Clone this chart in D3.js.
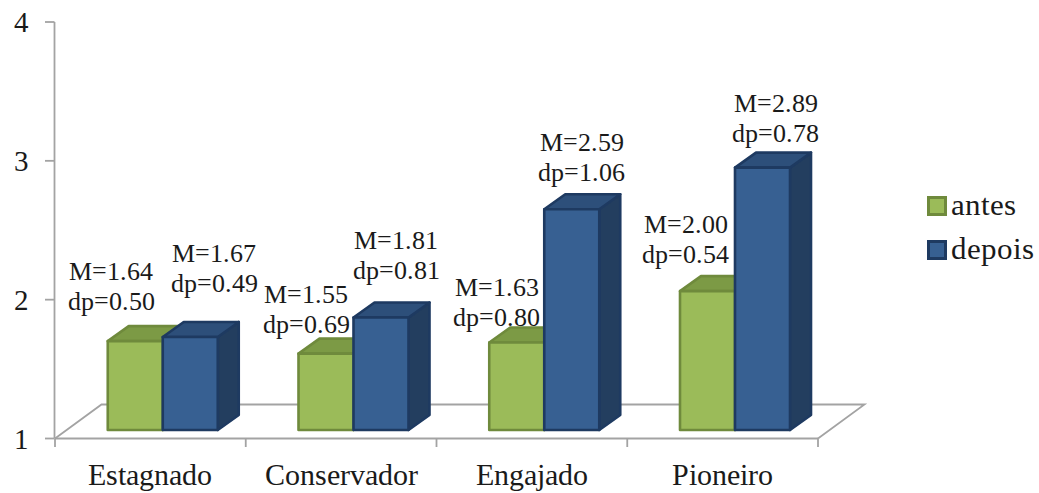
<!DOCTYPE html>
<html>
<head>
<meta charset="utf-8">
<script src="https://cdn.jsdelivr.net/npm/d3@7"></script>
<style>
  @font-face {
    font-family: "ChartSerif";
    src: local("Liberation Serif"), local("LiberationSerif"), local("LiberationSerif-Regular");
  }
</style>
</head>
<body style="margin:0">
<svg id="chart" width="1039" height="493"></svg>
<script>
// Mean and standard deviation per profile, before and after
const categories = ["Estagnado", "Conservador", "Engajado", "Pioneiro"];
const seriesNames = ["antes", "depois"];
const antesM = [1.64, 1.55, 1.63, 2.00];
const antesDp = [0.50, 0.69, 0.80, 0.54];
const depoisM = [1.67, 1.81, 2.59, 2.89];
const depoisDp = [0.49, 0.81, 1.06, 0.78];
const yTicks = [1, 2, 3, 4];

// Manual nudges for the value labels: [dx, dy] from the bar's front-top centre
const labelNudge = {
  antes:  [[-24, -31], [-20, -21], [-20, -17], [-22, -28]],
  depois: [[ 24, -45], [ 15, -39], [ 10, -28], [ 13, -26]]
};

const styles = {
  antes:  { front: "#9BBB59", top: "#7C9A45", side: "#6B8736", stroke: "#6F8A3C" },
  depois: { front: "#376092", top: "#2D4F7A", side: "#233E5F", stroke: "#1E3A61" }
};

const TEXT_FILL = "#1a1a1a";

const svg = d3.select("#chart");

// Oblique 3D projection: floor depth and bar depth vectors
const floorDepth = { x: 46.5, y: -34 };
const barFrontShift = { x: 11.75, y: -8.5 };   // bars stand a quarter of the way back
const barDepth = { x: 21, y: -15 };

const y = d3.scaleLinear().domain([1, 4]).range([438.5, 22]);
const x0 = d3.scaleBand().domain(categories).range([55, 818]).paddingInner(0).paddingOuter(0);
const x1 = d3.scaleBand().domain(seriesNames).range([41, 151]);

const gridColor = "#A3A3A3";
const axisG = svg.append("g").attr("stroke", gridColor).attr("stroke-width", 1.8).attr("fill", "none");

// Floor outline
const x0L = 55, x0R = 818, yF = y(1);
axisG.append("path").attr("d",
  `M${x0L},${yF} L${x0L + floorDepth.x},${yF + floorDepth.y} L${x0R + floorDepth.x},${yF + floorDepth.y} L${x0R},${yF}`);
axisG.append("line").attr("x1", x0L).attr("x2", x0R).attr("y1", yF).attr("y2", yF);

// Category tick marks
const catEdges = categories.map(c => x0(c)).concat([x0(categories[categories.length - 1]) + x0.bandwidth()]);
catEdges.forEach(xe => {
  axisG.append("line").attr("x1", xe).attr("x2", xe).attr("y1", yF).attr("y2", yF + 8.5);
});

// Value axis
axisG.append("line").attr("x1", 54.5).attr("x2", 54.5).attr("y1", y(4)).attr("y2", y(1));
yTicks.forEach(t => {
  axisG.append("line").attr("x1", 45).attr("x2", 54.5).attr("y1", y(t)).attr("y2", y(t));
});

// Text helper: Times-style serif face with fixed size
function addText(sel, size) {
  return sel.attr("style", `font: ${size}px "ChartSerif", "Liberation Serif", serif`)
    .attr("fill", TEXT_FILL);
}

addText(svg.append("g").selectAll("text").data(yTicks).join("text"), 29)
  .attr("x", 29).attr("y", d => y(d)).attr("dy", "0.35em")
  .attr("text-anchor", "end")
  .text(d => d);

// Category labels
addText(svg.append("g").selectAll("text").data(categories).join("text"), 30)
  .attr("x", d => x0(d) + x0.bandwidth() / 2).attr("y", 485)
  .attr("text-anchor", "middle")
  .text(d => d);

// 3D bars
const seriesData = {
  antes: { m: antesM, dp: antesDp },
  depois: { m: depoisM, dp: depoisDp }
};

const barsG = svg.append("g").attr("stroke-linejoin", "round");
const labelsG = svg.append("g");

categories.forEach((cat, i) => {
  seriesNames.forEach(s => {
    const v = seriesData[s].m[i];
    const st = styles[s];
    const left = x0(cat) + x1(s) + barFrontShift.x;
    const right = left + x1.bandwidth();
    const top = y(v) + barFrontShift.y;
    const bottom = y(1) + barFrontShift.y;
    const g = barsG.append("g").attr("stroke", st.stroke).attr("stroke-width", 2.6);

    // right side face
    g.append("path").attr("fill", st.side).attr("d",
      `M${right},${top} L${right + barDepth.x},${top + barDepth.y} L${right + barDepth.x},${bottom + barDepth.y} L${right},${bottom} Z`);
    // top face
    g.append("path").attr("fill", st.top).attr("d",
      `M${left},${top} L${left + barDepth.x},${top + barDepth.y} L${right + barDepth.x},${top + barDepth.y} L${right},${top} Z`);
    // front face
    g.append("rect").attr("fill", st.front)
      .attr("x", left).attr("y", top).attr("width", right - left).attr("height", bottom - top);

    // value label: mean and standard deviation
    const [dx, dy] = labelNudge[s][i];
    const cx = (left + right) / 2 + dx;
    const baseDp = top + dy;
    addText(labelsG.append("text"), 26).attr("x", cx).attr("y", baseDp - 30)
      .attr("text-anchor", "middle")
      .text(`M=${v.toFixed(2)}`);
    addText(labelsG.append("text"), 26).attr("x", cx).attr("y", baseDp)
      .attr("text-anchor", "middle")
      .text(`dp=${seriesData[s].dp[i].toFixed(2)}`);
  });
});

// Legend
const legend = svg.append("g");
const legendRows = [{ name: "antes", y: 196 }, { name: "depois", y: 240 }];
legendRows.forEach(r => {
  const st = styles[r.name];
  legend.append("rect").attr("x", 928.5).attr("y", r.y + 1.5).attr("width", 17).attr("height", 17)
    .attr("fill", st.front).attr("stroke", st.stroke).attr("stroke-width", 3);
  addText(legend.append("text"), 31).attr("x", 951).attr("y", r.y + 19).text(r.name);
});
</script>
</body>
</html>
